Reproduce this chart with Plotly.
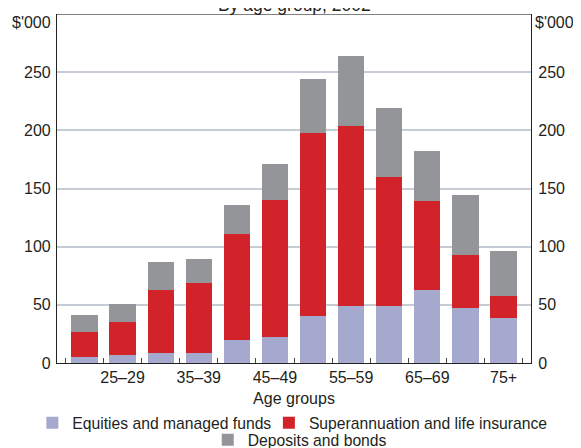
import plotly.graph_objects as go

# Household assets by age group, 2002 ($'000)
age_groups = ["15–24", "25–29", "30–34", "35–39", "40–44", "45–49",
              "50–54", "55–59", "60–64", "65–69", "70–74", "75+"]
tick_labels = ["", "25–29", "", "35–39", "", "45–49",
               "", "55–59", "", "65–69", "", "75+"]

equities = [5, 6.5, 9, 9, 19.5, 22, 40.5, 49, 49, 62.5, 47.5, 39]
superannuation = [21.5, 28.5, 53.5, 60, 91.5, 118.5, 157.5, 155, 111, 77, 45.5, 19]
deposits = [14.5, 15.5, 24.5, 20.5, 24.5, 30.5, 46.5, 59.5, 59.5, 43, 51, 38.5]

y_ticks = [0, 50, 100, 150, 200, 250]

FONT = "Liberation Sans, Arial, sans-serif"
TEXT = "#231f20"
FS = 16

fig = go.Figure()
fig.add_trace(go.Bar(x=age_groups, y=equities, name="Equities and managed funds",
                     marker=dict(color="#a5a9cd", line=dict(width=0)), width=0.69,
                     legend="legend"))
fig.add_trace(go.Bar(x=age_groups, y=superannuation, name="Superannuation and life insurance",
                     marker=dict(color="#d2232a", line=dict(width=0)), width=0.69,
                     legend="legend2"))
fig.add_trace(go.Bar(x=age_groups, y=deposits, name="Deposits and bonds",
                     marker=dict(color="#939598", line=dict(width=0)), width=0.69,
                     legend="legend3"))

# invisible trace so the right axis is drawn
fig.add_trace(go.Scatter(x=age_groups, y=equities, yaxis="y2", mode="markers",
                         marker=dict(opacity=0), showlegend=False, hoverinfo="skip"))

legend_style = dict(orientation="h", xanchor="left", yanchor="middle",
                    font=dict(size=15.7), itemwidth=30, bgcolor="rgba(0,0,0,0)")

fig.update_layout(
    width=581, height=448,
    # page body adds an 8px offset, margins compensate for it
    margin=dict(l=49, r=58, t=6, b=93, autoexpand=False),
    barmode="stack",
    plot_bgcolor="white", paper_bgcolor="white",
    font=dict(family=FONT, size=FS, color=TEXT),
    xaxis=dict(
        type="category", automargin=False,
        tickmode="array", tickvals=age_groups, ticktext=tick_labels, tickangle=0,
        tickson="boundaries", ticks="inside", ticklen=5, tickcolor="#444",
        showline=True, linecolor="#222", linewidth=1.2,
        showgrid=False,
        title=dict(text="Age groups", standoff=7, font=dict(size=FS)),
    ),
    yaxis=dict(
        range=[0, 300], tickvals=y_ticks, ticks="", automargin=False,
        showline=True, linecolor="#222", linewidth=1.2,
        showgrid=True, gridcolor="#c6ccd6", gridwidth=1.5,
        zeroline=False, ticklabelstandoff=2,
    ),
    yaxis2=dict(
        range=[0, 300], tickvals=y_ticks, ticks="", overlaying="y", side="right",
        automargin=False,
        showline=True, linecolor="#222", linewidth=1.2,
        showgrid=False, zeroline=False, ticklabelstandoff=3,
    ),
    legend=dict(legend_style, x=-0.052, y=-0.172),
    legend2=dict(legend_style, x=0.447, y=-0.172),
    legend3=dict(legend_style, x=0.318, y=-0.2206),
    showlegend=True,
)

fig.add_shape(type="line", xref="paper", yref="y", x0=0, x1=1, y0=300, y1=300,
              line=dict(color="#808080", width=2))

fig.add_annotation(text="$'000", xref="paper", yref="paper", x=0, y=0.976,
                   xanchor="right", yanchor="middle", xshift=-4, showarrow=False)
fig.add_annotation(text="$'000", xref="paper", yref="paper", x=1, y=0.976,
                   xanchor="left", yanchor="middle", xshift=2, showarrow=False)
fig.add_annotation(text="By age group, 2002", xref="paper", yref="paper", x=0.5, y=1.027,
                   xanchor="center", yanchor="middle", showarrow=False,
                   font=dict(size=17.5))

fig.write_html("out.html")
